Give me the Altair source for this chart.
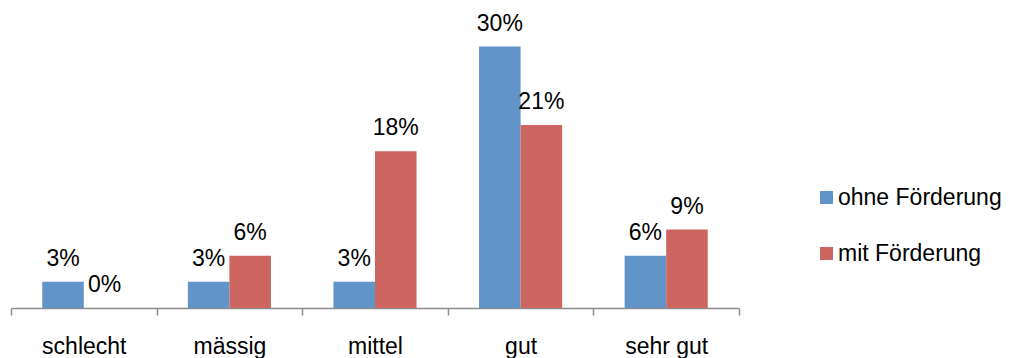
import altair as alt
import pandas as pd

# Bewertungsstufen und Anteile (in %) je Gruppe
categories = ["schlecht", "mässig", "mittel", "gut", "sehr gut"]
series = ["ohne Förderung", "mit Förderung"]
ohne_foerderung = [3, 3, 3, 30, 6]
mit_foerderung = [0, 6, 18, 21, 9]
colors = ["#6195C9", "#CD6560"]

rows = []
for name, values in zip(series, [ohne_foerderung, mit_foerderung]):
    for cat, val in zip(categories, values):
        rows.append({"Bewertung": cat, "Gruppe": name, "Anteil": val, "Label": f"{val}%"})
df = pd.DataFrame(rows)

FONT = "Liberation Sans"

base = alt.Chart(df).encode(
    x=alt.X(
        "Bewertung:N",
        sort=categories,
        scale=alt.Scale(paddingInner=0, paddingOuter=0),
        axis=alt.Axis(
            title=None,
            labelAngle=0,
            tickBand="extent",
            domainColor="#8c8c8c",
            tickColor="#8c8c8c",
            domainWidth=1.5,
            tickWidth=1.5,
            tickSize=7,
            labelFontSize=23,
            labelFont=FONT,
            labelColor="black",
            labelPadding=20,
            grid=False,
        ),
    ),
    xOffset=alt.XOffset("Gruppe:N", sort=series, scale=alt.Scale(paddingInner=0, paddingOuter=0.752)),
    y=alt.Y("Anteil:Q", scale=alt.Scale(domain=[0, 35]), axis=None),
)

bars = base.mark_bar().encode(
    color=alt.Color(
        "Gruppe:N",
        sort=series,
        scale=alt.Scale(domain=series, range=colors),
        legend=alt.Legend(
            title=None,
            orient="none",
            legendX=804,
            legendY=183,
            symbolType="square",
            symbolSize=169,
            symbolStrokeWidth=0,
            labelFontSize=23,
            labelFont=FONT,
            labelColor="black",
            labelLimit=400,
            rowPadding=32,
            labelOffset=0,
            padding=0,
        ),
    )
)

labels = base.mark_text(
    dy=-16, baseline="alphabetic", fontSize=23, font=FONT, color="black"
).encode(text="Label:N")

chart = (
    alt.layer(bars, labels)
    .properties(
        width=728,
        height=305,
        autosize=alt.AutoSizeParams(type="none"),
        padding={"left": 11, "top": 3, "right": 272, "bottom": 50},
        background="white",
    )
    .configure_view(stroke=None)
)

chart.save("out.html", embed_options={"renderer": "svg", "actions": False})
